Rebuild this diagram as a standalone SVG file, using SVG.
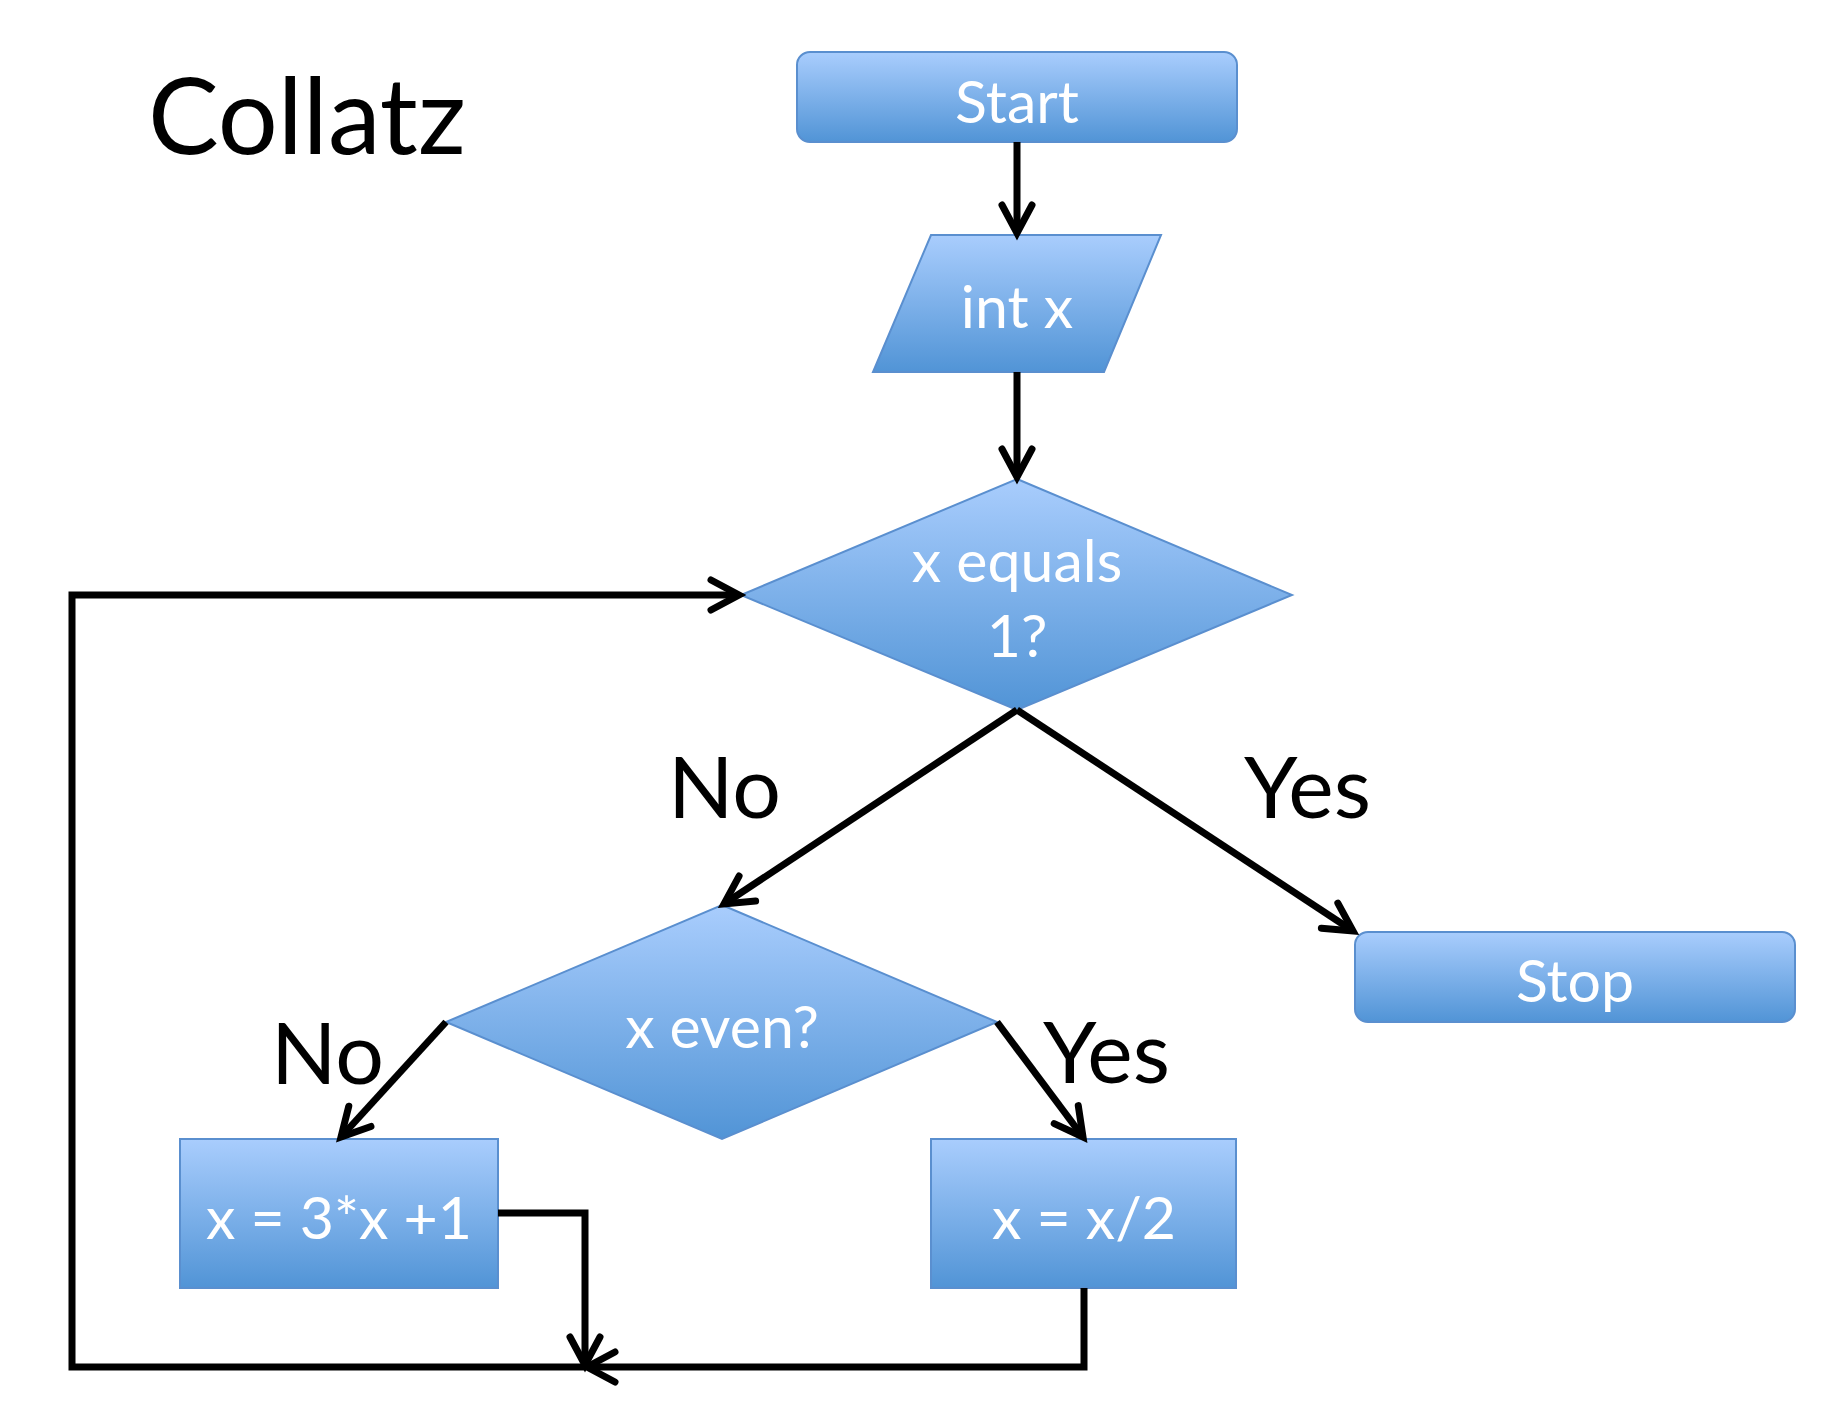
<svg xmlns="http://www.w3.org/2000/svg" width="1832" height="1406" viewBox="0 0 1832 1406">
<style>
.shape{fill:url(#g);stroke:#5a8fcf;stroke-width:2}
.nt{font-family:Lato,"Open Sans","Liberation Sans",sans-serif;font-size:59px;fill:#fff;text-anchor:middle}
.lbl{font-family:Lato,"Open Sans","Liberation Sans",sans-serif;font-size:86px;fill:#000}
.title{font-family:Lato,"Open Sans","Liberation Sans",sans-serif;font-size:106px;fill:#000}
.c{fill:none;stroke:#000;stroke-width:7;stroke-linejoin:miter}
.a{marker-end:url(#arr)}
</style>
<defs>
<linearGradient id="g" x1="0" y1="0" x2="0" y2="1">
<stop offset="0" stop-color="#a9cdfd"/>
<stop offset="1" stop-color="#5194d6"/>
</linearGradient>
<marker id="arr" markerUnits="userSpaceOnUse" markerWidth="60" markerHeight="60" viewBox="-40 -30 60 60" refX="0" refY="0" orient="auto" overflow="visible">
<path d="M-28,-15 L0,0 L-28,15" fill="none" stroke="#000" stroke-width="7" stroke-linecap="round" stroke-linejoin="miter"/>
</marker>
</defs>
<rect width="1832" height="1406" fill="#fff"/>
<text class="title" x="148" y="154">Collatz</text>

<g id="start">
<rect class="shape" x="797" y="52" width="440" height="90" rx="13"/>
<text class="nt" x="1017" y="123">Start</text>
</g>
<g id="input">
<polygon class="shape" points="931,235 1161,235 1104,372 873,372"/>
<text class="nt" x="1017" y="328">int x</text>
</g>
<g id="dec1">
<polygon class="shape" points="1017,479 1292,595 1017,710 741,595"/>
<text class="nt" x="1017" y="582">x equals</text>
<text class="nt" x="1017" y="657">1?</text>
</g>
<g id="stop">
<rect class="shape" x="1355" y="932" width="440" height="90" rx="13"/>
<text class="nt" x="1575" y="1002">Stop</text>
</g>
<g id="dec2">
<polygon class="shape" points="722,905 997,1022 722,1139 446,1022"/>
<text class="nt" x="722" y="1048">x even?</text>
</g>
<g id="odd">
<rect class="shape" x="180" y="1139" width="318" height="149"/>
<text class="nt" x="339" y="1239">x = 3*x +1</text>
</g>
<g id="even">
<rect class="shape" x="931" y="1139" width="305" height="149"/>
<text class="nt" x="1084" y="1239">x = x/2</text>
</g>

<g id="connectors">
<path class="c a" d="M1017,142 L1017,233"/>
<path class="c a" d="M1017,372 L1017,477"/>
<path class="c a" d="M1017,710 L724,904"/>
<path class="c a" d="M1017,710 L1353,931"/>
<path class="c a" d="M446,1022 L341,1137"/>
<path class="c a" d="M997,1022 L1083,1137"/>
<path class="c a" d="M498,1213 L585,1213 L585,1365"/>
<path class="c a" d="M1084,1288 L1084,1367 L587,1367"/>
<path class="c a" d="M585,1367 L72,1367 L72,595 L739,595"/>
<text class="lbl" x="668" y="818">No</text>
<text class="lbl" x="1244" y="818">Yes</text>
<text class="lbl" x="271" y="1084">No</text>
<text class="lbl" x="1043" y="1083">Yes</text>
</g>
</svg>
